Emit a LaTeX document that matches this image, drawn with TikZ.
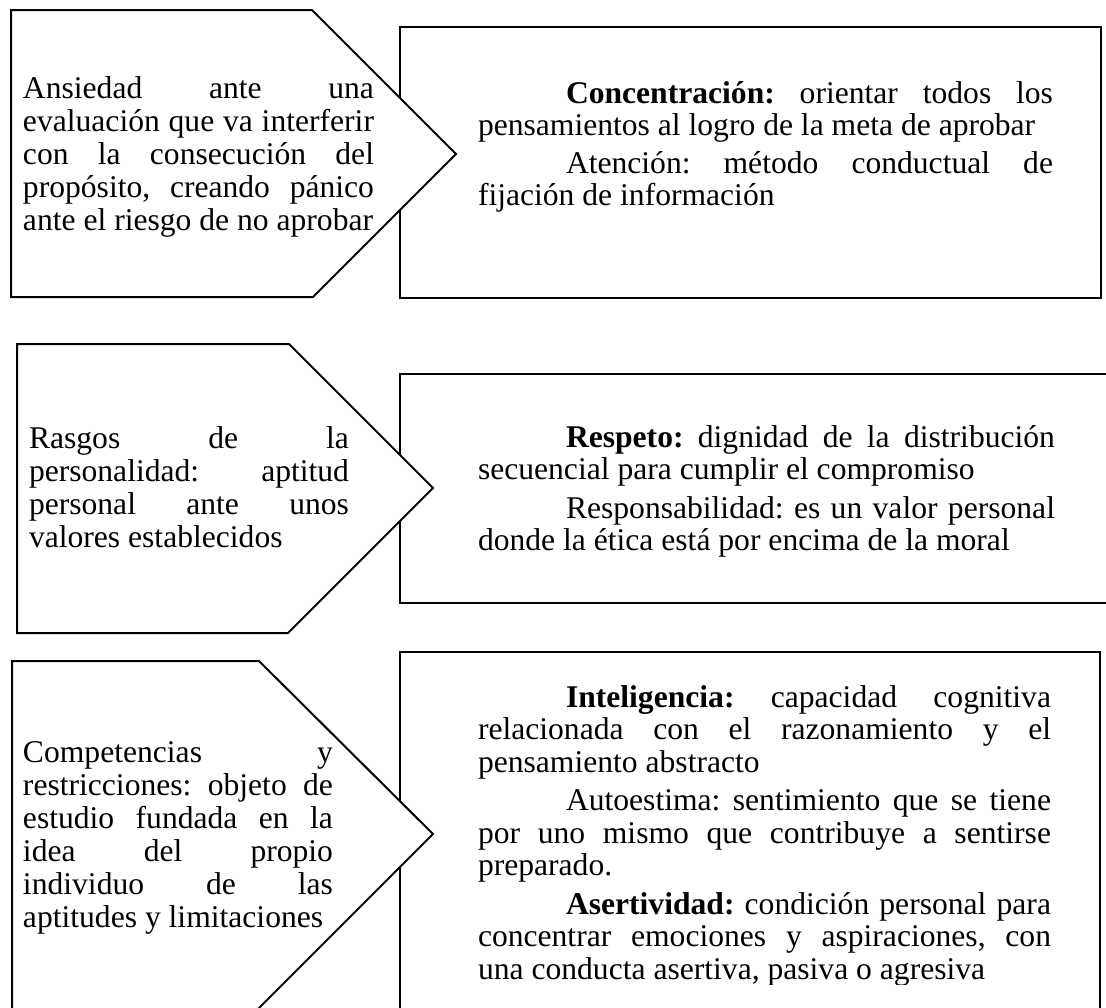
\documentclass[tikz,border=0pt]{standalone}
\usepackage{fontspec}
\setmainfont{Liberation Serif}
\frenchspacing
\newcommand{\JL}[1]{\makebox[\linewidth][s]{#1}\par}
\newcommand{\JI}[1]{\hspace*{88pt}\makebox[\dimexpr\linewidth-88pt\relax][s]{#1}\par}
\newcommand{\LL}[1]{\mbox{#1}\par}
\newcommand{\LI}[1]{\hspace*{88pt}\mbox{#1}\par}
\newcommand{\leftfont}{\fontsize{31.6pt}{33pt}\selectfont\frenchspacing\setlength\parindent{0pt}\setlength\parskip{0pt}}
\newcommand{\rightfont}{\fontsize{31.6pt}{32.5pt}\selectfont\frenchspacing\setlength\parindent{0pt}\setlength\parskip{0pt}}
\tikzset{
  box/.style={draw=black, line width=2pt, fill=white},
  txt/.style={anchor=base west, inner sep=0pt, outer sep=0pt},
}
\begin{document}
\begin{tikzpicture}[x=1pt, y=-1pt]
\useasboundingbox[fill=white] (0,0) rectangle (1106,1007);

% ---------- Row 1 ----------
\draw[box] (400,27) rectangle (1101,298);
\draw[box] (11,10) -- (312,10) -- (456,154) -- (313,297) -- (11,297) -- cycle;
\node[txt] (l1) at (23,98) {\begin{minipage}[t]{351pt}\leftfont
\JL{Ansiedad ante una}
\JL{evaluación que va interferir}
\JL{con la consecución del}
\JL{propósito, creando pánico}
\LL{ante el riesgo de no aprobar}
\end{minipage}};
\node[txt] (r1) at (478,103) {\begin{minipage}[t]{575pt}\rightfont
\JI{\textbf{Concentración:} orientar todos los}
\LL{pensamientos al logro de la meta de aprobar}
\vspace{5pt}
\JI{Atención: método conductual de}
\LL{fijación de información}
\end{minipage}};

% ---------- Row 2 ----------
\draw[box] (400,374) rectangle (1115,603);
\draw[box] (17,344) -- (289,344) -- (433,488) -- (288,633) -- (17,633) -- cycle;
\node[txt] (l2) at (29,448) {\begin{minipage}[t]{320pt}\leftfont
\JL{Rasgos de la}
\JL{personalidad: aptitud}
\JL{personal ante unos}
\LL{valores establecidos}
\end{minipage}};
\node[txt] (r2) at (478,447) {\begin{minipage}[t]{577pt}\rightfont
\JI{\textbf{Respeto:} dignidad de la distribución}
\LL{secuencial para cumplir el compromiso}
\vspace{6pt}
\JI{Responsabilidad: es un valor personal}
\LL{donde la ética está por encima de la moral}
\end{minipage}};

% ---------- Row 3 ----------
\draw[box] (400,652) rectangle (1100,1015);
\draw[box] (12,661) -- (259,661) -- (433,834) -- (254,1013) -- (12,1013) -- cycle;
\node[txt] (l3) at (23,762) {\begin{minipage}[t]{310pt}\leftfont
\JL{Competencias y}
\JL{restricciones: objeto de}
\JL{estudio fundada en la}
\JL{idea del propio}
\JL{individuo de las}
\LL{aptitudes y limitaciones}
\end{minipage}};
\begin{scope}
\clip (402,654) rectangle (1098,984);
\node[txt] (r3) at (478,707) {\begin{minipage}[t]{573pt}\rightfont
\JI{\textbf{Inteligencia:} capacidad cognitiva}
\JL{relacionada con el razonamiento y el}
\LL{pensamiento abstracto}
\vspace{6pt}
\JI{Autoestima: sentimiento que se tiene}
\JL{por uno mismo que contribuye a sentirse}
\LL{preparado.}
\vspace{6pt}
\JI{\textbf{Asertividad:} condición personal para}
\JL{concentrar emociones y aspiraciones, con}
\LL{una conducta asertiva, pasiva o agresiva}
\end{minipage}};
\end{scope}
\end{tikzpicture}
\end{document}
